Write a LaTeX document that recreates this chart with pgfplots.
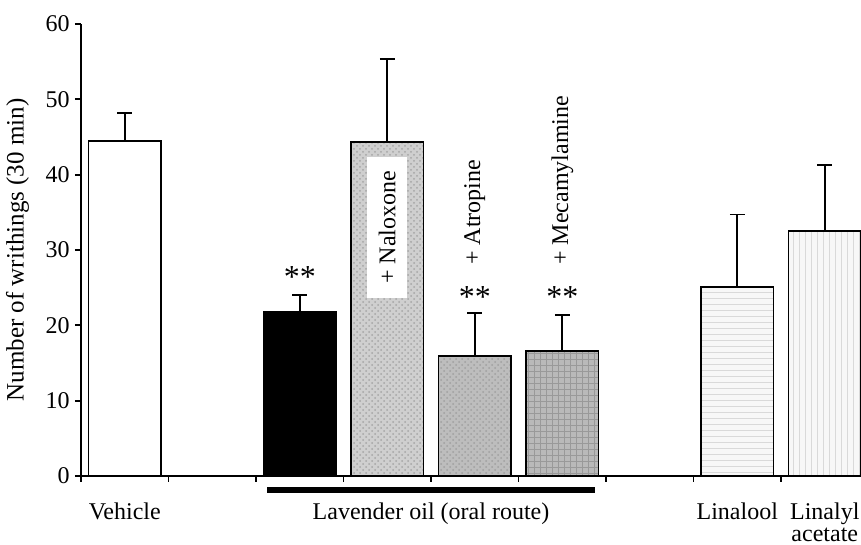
\documentclass[border=0pt]{standalone}
\usepackage{fontspec}
\setmainfont{Liberation Serif}
\usepackage{pgfplots}
\pgfplotsset{compat=1.18}
\usetikzlibrary{patterns}
\begin{document}
\fontsize{12}{14}\selectfont
\begin{tikzpicture}
\begin{axis}[name=ax, scale only axis, width=390pt, height=226pt,
  xmin=0, xmax=8.914, ymin=0, ymax=60,
  axis lines=left, axis line style={-, line width=0.9pt},
  tick align=outside, major tick length=3pt, tick style={line width=0.9pt, black},
  xtick={0,...,8}, xticklabels={}, ytick={0,10,...,60},
  yticklabel style={xshift=1.5pt},
  /pgf/number format/assume math mode=true,
  ylabel={Number of writhings (30 min)},
  ylabel style={at={(axis description cs:-0.0814,0.5)}, anchor=center, font=\fontsize{12.5}{14}\selectfont},
  clip=false,
  every axis plot/.append style={ybar, bar width=0.83, bar shift=0pt, draw=black, line width=0.9pt,
    error bars/y dir=plus, error bars/y explicit,
    error bars/error bar style={line width=0.9pt, black},
    error bars/error mark options={rotate=90, mark size=3.75pt, line width=0.9pt, black}},
]
\addplot[fill=white] coordinates {(0.5,44.5) +- (0,3.7)};
\addplot[fill=black] coordinates {(2.5,21.8) +- (0,2.2)};
\addplot[fill=gray!38, postaction={pattern=crosshatch dots, pattern color=gray!70}] coordinates {(3.5,44.3) +- (0,11.1)};
\addplot[fill=gray!52, postaction={pattern=crosshatch dots, pattern color=gray!75}] coordinates {(4.5,15.9) +- (0,5.7)};
\addplot[fill=gray!55, postaction={pattern=grid, pattern color=gray!80}] coordinates {(5.5,16.6) +- (0,4.8)};
\addplot[fill=gray!6, postaction={pattern=horizontal lines, pattern color=gray!30}] coordinates {(7.5,25.1) +- (0,9.6)};
\addplot[fill=gray!6, postaction={pattern=vertical lines, pattern color=gray!30}] coordinates {(8.5,32.5) +- (0,8.8)};

\node[fill=white, rotate=90, minimum width=70.5pt, minimum height=20pt, inner sep=0pt] at (axis cs:3.5,33.0) {+ Naloxone};
\node[rotate=90, anchor=west, inner sep=0pt] at (axis cs:4.5,28.0) {+ Atropine};
\node[rotate=90, anchor=west, inner sep=0pt] at (axis cs:5.5,28.0) {+ Mecamylamine};
\node[font=\fontsize{16}{16}\selectfont, inner sep=0pt] at (axis cs:2.5,26.4) {**};
\node[font=\fontsize{16}{16}\selectfont, inner sep=0pt] at (axis cs:4.5,23.8) {**};
\node[font=\fontsize{16}{16}\selectfont, inner sep=0pt] at (axis cs:5.5,23.8) {**};

\draw[line width=3pt] ([yshift=-7pt]axis cs:2.126,0) -- ([yshift=-7pt]axis cs:5.874,0);
\begin{scope}[every node/.style={anchor=base, inner sep=0.5pt}]
\node at ([yshift=-22pt]axis cs:0.5,0) {Vehicle};
\node at ([yshift=-22pt]axis cs:4.0,0) {Lavender oil (oral route)};
\node at ([yshift=-22pt]axis cs:7.5,0) {Linalool};
\node at ([yshift=-22pt]axis cs:8.5,0) {Linalyl};
\node at ([yshift=-32.8pt]axis cs:8.5,0) {acetate};
\end{scope}
\end{axis}
\pgfresetboundingbox
\path ([xshift=-40.5pt,yshift=-34.5pt]ax.south west) rectangle ([yshift=12pt]ax.north east);
\end{tikzpicture}
\end{document}
